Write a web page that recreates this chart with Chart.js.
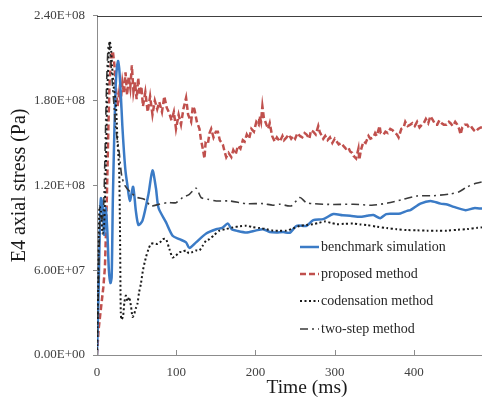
<!DOCTYPE html>
<html><head><meta charset="utf-8">
<script src="https://cdn.jsdelivr.net/npm/chart.js@4.4.1/dist/chart.umd.min.js"></script>
<style>
html,body{margin:0;padding:0;overflow:hidden;background:#fff;width:482px;height:398px;}
#wrap{position:relative;width:517px;height:398px;}
#legend{position:absolute;left:299px;top:233px;font-family:'Liberation Serif','Times New Roman',serif;font-size:14px;color:#262626;}
.row{display:flex;align-items:center;height:27.3px;white-space:nowrap;}
.row svg{width:21px;height:10px;flex:none;margin-right:1px;}
</style></head><body>
<div id="wrap"><canvas id="c" width="517" height="398"></canvas><div id="legend"></div></div>
<script>
// ---- data (time in ms, stress in MPa; converted to Pa below) ----
const seriesNames = ['benchmark simulation','proposed method','codensation method','two-step method'];
const xTickValues = [0,100,200,300,400];
const yTickValues = [0,6e7,1.2e8,1.8e8,2.4e8];

const benchT = [0,2,4,5,7,9,11,13,15,17,18.5,20,22,24,26.5,28,30,32,34,36,38.4,41.4,45.6,49,52.3,57.4,65,70,74.4,77.7,87,95.4,103.9,112.4,116.6,125,137.8,150.4,158,165,170,175.8,188.5,200,209.5,218,226.5,235,243.3,251.8,264.5,272.9,285.5,298.2,310,319.4,332,340.6,348.9,357.4,365,374.3,382.8,391.3,395.4,408.1,420.8,433.5,441.9,450.3,465.1,475.7,486,495];
const benchV = [0,45,100,111,106,85,104,88,60,51,55,110,160,195,208,203,185,162,144,130,120,109,119,102,92,95,114,130.6,118,104,94,84.4,82,79.7,75.7,79.7,86,89,90,93,89,88,86.7,88,89,87,86.7,87,86.5,91.4,91.4,95.4,96.1,99.7,98.8,98.5,97.8,98.5,99,96.8,99.7,99.9,100.1,102,102.5,107.1,109,107.1,106.5,104.8,102.5,103.9,103.6,103.5];

const propT = [0,2,4,6,8,10,11.5,13,14.5,16,18,20,22,24,26,28,30,32,34,36,38,40,42,44,46,48,50,52,54,56,58,61,64,67,70,73,76,78.6,82,84.9,88,91.3,94,97,99.7,103,106,109,112.4,115,118.8,121,122.9,126,129.3,131,133.5,135.6,137,139.8,142,144.1,147,150,152.5,155,158.8,161,163.1,166,169.5,172,175,177.8,181,184,186.3,189,192,194.8,198,201.1,204,205.3,207,208.7,210.5,213.8,216,218,221,224.3,227,230.7,234,236,239.2,242,245,247.5,250,253,256,259,262,264.5,268,270,272.9,276,279.2,281,285.5,288,291,294,297,300,302.5,305,308,310.9,314,317,319.4,322,323.6,327,329.9,331,333,336.2,339,342.6,345,348.9,351,353,356.6,358,361.6,364,367,370.1,373,376,378.6,380.6,384,387,389,392,395.4,398,401,403.9,407,410,412.3,415,418,420.8,424,427,429.3,432,435,437.6,441,444,446.1,449,452,454.6,457,458.8,461,464,467.2,470,473,475.7,478,481,484.2,488,495];
const propV = [0,18,28,38,48,62,90,125,165,195,212,215,205,188,176,186,180,193,185,200,184,197,189,205,186,193,181,196,184,190,176,186,172,183,170,180,174,179,172,183,175,171,166,172,160,170,163,174,182,170,165,176,174,165,160,153,146,139,150,149,157,160,154,158,158,152,149,144,140,143,140,145,142,148,146,152,151,156,153,160,158,165,163,169,165,176,168,163,160,164,155,151,154,151,155,152,154,156,153,155,153,157,155,154,157,156,153,159,158,156,162,158,153,155,152,154,150,153,151,149,150,148,146,147,144,143,141,139,146,138,145,151,150,155,153,154,157,155,162,157,156,158,157,160,159,157,156,154,160,161,165,162,163,164,162,165,161,163,164,167,164,169,166,163,163,166,164,163,163,165,164,162,165,163,160,156,161,163,163,160,161,159,158,160,161,161,162];

const condT = [0,1.5,3,5,7,9,11,13,15,16,17.5,19,21,23.7,26,27.9,29,30,31,33,34.5,36.4,38.5,40.6,43,44.9,46.9,49,51.1,53,55.4,58,61.7,65,68.1,72,76.4,80,82.8,87,91.3,95.4,99,103.9,108,112.4,116,120.8,125,129.3,133,137.8,142,148,154.6,162,171.5,180,188.5,196,205.3,214,222.2,230,239.2,247,256,264,272.9,280,287.7,295,302.5,312,323.6,332,340.6,353,365.9,378,391.3,404,416.6,429,441.9,455,467.2,480,486.3,495];
const condV = [0,50,105,102,86,92,130,185,215,222,218,205,190,179,150,132,90,30,25,28,37,42,38,41,34,27,29,33,36.4,44,50.4,60,69,75,78.6,79,78.6,80,82,82,75,69,70,72.7,73,74,72,73,74,74,77,81,82,85,88,89,90.3,91,91.4,90.5,89.8,89,88,88,88,89.5,91.4,92,92.6,93.5,94.5,93.5,92.6,92.8,93,92.4,91.9,90.8,89.8,89,88.4,88.2,88,88,88,88.6,89.1,90,90.3,90.5];

const twoT = [0,2,4,6,8,10,12,14,15.5,17,19,21,23,25,27.9,31.2,35.5,42.7,51.1,59.6,68.1,78.6,89.1,99.7,108.1,116.6,125,131.4,139.8,150.4,167.3,188.5,209.5,222,230.7,245,256,264,275,298.2,323.6,346.7,366.7,386.7,403.9,425,446.1,457,467.2,478.3,486,495];
const twoV = [0,55,100,96,100,140,190,218,221,210,195,180,165,155,144,126.6,119.6,114.9,111.4,110.2,105.5,106.7,107.8,107.8,111.4,113.7,118,111.4,110.2,109,109,107.1,107.1,106,106.7,105.5,111.4,107.8,107,106.5,106.7,106,107.5,110.2,112.5,112.7,114,115.5,119,121.5,122.5,123];

const MPA = 1e6;
const pts = (t, v) => t.map((x, i) => ({x: x, y: v[i] * MPA}));

function sci(v){
  if (v === 0) return '0.00E+00';
  const e = Math.floor(Math.log10(Math.abs(v)) + 1e-9);
  const m = v / Math.pow(10, e);
  return m.toFixed(2) + 'E' + (e < 0 ? '-' : '+') + String(Math.abs(e)).padStart(2, '0');
}

const SERIF = "'Liberation Serif','Times New Roman',serif";

const datasets = [
  {label: seriesNames[0], data: pts(benchT, benchV), borderColor:'#3b7bc6', borderWidth:2.5, borderDash:[], tension:0.25, pointRadius:0, order:3},
  {label: seriesNames[1], data: pts(propT, propV), borderColor:'#c0504d', borderWidth:2.5, borderDash:[6,3], tension:0, pointRadius:0, order:4},
  {label: seriesNames[2], data: pts(condT, condV), borderColor:'#1a1a1a', borderWidth:2, borderDash:[2,2.5], tension:0.25, pointRadius:0, order:1},
  {label: seriesNames[3], data: pts(twoT, twoV), borderColor:'#3a3a3a', borderWidth:1.6, borderDash:[8,4,2,4], tension:0.25, pointRadius:0, order:2}
];

const frame = {
  id:'frame',
  afterDraw(chart){
    const {ctx, chartArea:a, scales:{x}} = chart;
    ctx.save();
    ctx.strokeStyle = '#8c8c8c'; ctx.lineWidth = 1;
    x.ticks.forEach(t => {
      const px = Math.round(x.getPixelForValue(t.value)) + 0.5;
      ctx.beginPath(); ctx.moveTo(px, a.bottom); ctx.lineTo(px, a.bottom - 5); ctx.stroke();
    });
    ctx.strokeStyle = '#404040';
    ctx.beginPath(); ctx.moveTo(a.left, Math.round(a.top) + 0.5); ctx.lineTo(a.right, Math.round(a.top) + 0.5); ctx.stroke();
    ctx.restore();
  }
};

const chart = new Chart(document.getElementById('c'), {
  type:'line',
  data:{datasets},
  options:{
    responsive:false, animation:false, devicePixelRatio:1,
    layout:{padding:{top:15, right:0, left:0, bottom:0}},
    plugins:{legend:{display:false}, tooltip:{enabled:false}},
    scales:{
      x:{type:'linear', min:0, max:530,
        afterBuildTicks(s){ s.ticks = xTickValues.map(v => ({value:v})); },
        afterFit(s){ s.height = 43; },
        grid:{display:true, drawOnChartArea:false, drawTicks:false},
        border:{display:true, color:'#8c8c8c', width:1},
        ticks:{padding:10, maxRotation:0, font:{family:SERIF, size:13}, color:'#404040'},
        title:{display:true, text:'Time (ms)', font:{family:SERIF, size:19.5, lineHeight:1}, color:'#1a1a1a', padding:{top:0,bottom:0}}
      },
      y:{type:'linear', min:0, max:2.4e8,
        afterBuildTicks(s){ s.ticks = yTickValues.map(v => ({value:v})); },
        afterFit(s){ s.width = 97; },
        grid:{display:true, drawOnChartArea:false, drawTicks:true, tickLength:4, color:'#8c8c8c'},
        border:{display:true, color:'#8c8c8c', width:1},
        ticks:{padding:8, font:{family:SERIF, size:13}, color:'#404040', callback:v => sci(v)},
        title:{display:true, text:'E4 axial stress (Pa)', font:{family:SERIF, size:20, lineHeight:1}, color:'#1a1a1a', padding:{top:10,bottom:0}}
      }
    }
  },
  plugins:[frame]
});

// HTML legend built from the datasets
const leg = document.getElementById('legend');
[0,1,2,3].forEach(i => {
  const d = datasets[i];
  const row = document.createElement('div'); row.className = 'row';
  const svg = document.createElementNS('http://www.w3.org/2000/svg','svg');
  svg.setAttribute('viewBox','0 0 21 10');
  const ln = document.createElementNS('http://www.w3.org/2000/svg','line');
  ln.setAttribute('x1','1'); ln.setAttribute('x2','20'); ln.setAttribute('y1','5'); ln.setAttribute('y2','5');
  ln.setAttribute('stroke', d.borderColor); ln.setAttribute('stroke-width', d.borderWidth);
  if (d.borderDash.length) ln.setAttribute('stroke-dasharray', d.borderDash.join(' '));
  svg.appendChild(ln);
  const sp = document.createElement('span'); sp.textContent = d.label;
  row.appendChild(svg); row.appendChild(sp); leg.appendChild(row);
});
</script>
</body></html>
